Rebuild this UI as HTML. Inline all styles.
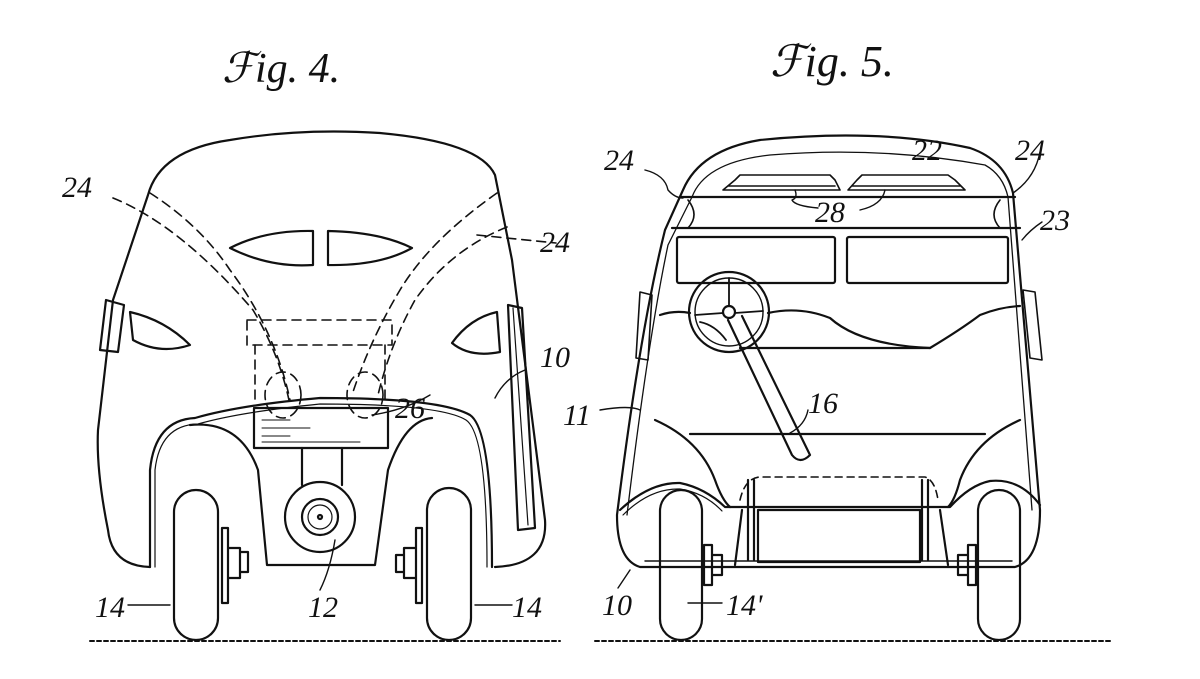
<!DOCTYPE html>
<html><head><meta charset="utf-8"><style>
html,body{margin:0;padding:0;background:#fff;}
svg{display:block}
text{font-family:"Liberation Serif",serif;font-style:italic;fill:#111;}
</style></head><body>
<svg width="1200" height="679" viewBox="0 0 1200 679" xmlns="http://www.w3.org/2000/svg">
<rect width="1200" height="679" fill="#fff"/>
<g fill="none" stroke="#111" stroke-width="2.2" stroke-linecap="round" stroke-linejoin="round">
<!-- FIG 4 -->
<path d="M150,567 Q112,566 108,530 Q96,470 98,430 L113,300 L148,195 Q160,150 230,140 Q300,128 380,133 Q480,142 495,175 L512,260 L545,520 Q548,565 495,567"/>
<path d="M230,248 Q265,230 313,231 L313,265 Q270,268 230,248Z"/>
<path d="M328,231 Q380,232 412,248 Q380,266 328,265Z"/>
<path d="M133,340 L130,312 Q165,320 190,345 Q160,355 133,340Z"/>
<path d="M452,343 Q470,318 497,312 L500,352 Q470,358 452,343Z"/>
<path d="M106,300 L124,305 L118,352 L100,350Z"/>
<path d="M508,305 L522,308 L535,528 L518,530Z"/>
<path d="M513,308 L528,525" stroke-width="1.2"/>
<g stroke-dasharray="9,6" stroke-width="1.6">
<path d="M113,198 Q180,225 253,310 Q280,355 290,405"/>
<path d="M150,193 Q200,225 230,270 Q275,330 290,400"/>
<path d="M497,193 Q430,240 400,290 Q370,340 352,395"/>
<path d="M507,227 Q450,250 415,300 Q390,345 378,395"/>
<path d="M477,235 L556,243"/>
<path d="M247,320 L392,320 L392,345 L247,345Z"/>
<path d="M255,345 L255,400 M385,345 L385,400"/>
<ellipse cx="283" cy="395" rx="18" ry="23"/>
<ellipse cx="365" cy="395" rx="18" ry="23"/>
</g>
<path d="M150,567 L150,470 Q155,420 195,418 Q240,405 320,398 Q440,398 470,415 Q492,430 492,567"/>
<path d="M155,567 L155,470 Q160,425 198,424 Q240,412 320,404 Q440,404 466,420 Q487,434 487,567" stroke-width="1.2"/>
<path d="M190,425 Q240,420 258,470 L267,565 L375,565 L388,470 Q405,420 432,418"/>
<rect x="254" y="408" width="134" height="40"/>
<path d="M262,420 L290,420 M262,428 L310,428 M262,436 L290,436 M262,442 L360,442" stroke-width="1"/>
<path d="M302,448 L302,485 M342,448 L342,485"/>
<circle cx="320" cy="517" r="35"/>
<circle cx="320" cy="517" r="18"/>
<circle cx="320" cy="517" r="12" stroke-width="1.2"/>
<circle cx="320" cy="517" r="2"/>
<rect x="174" y="490" width="44" height="150" rx="22"/>
<rect x="427" y="488" width="44" height="152" rx="22"/>
<path d="M222,528 L228,528 L228,603 L222,603Z M228,548 L240,548 L240,578 L228,578Z M240,552 L248,552 L248,572 L240,572Z"/>
<path d="M422,528 L416,528 L416,603 L422,603Z M416,548 L404,548 L404,578 L416,578Z M404,555 L396,555 L396,572 L404,572Z"/>
<path d="M90,641 L560,641" stroke-width="2" stroke-dasharray="4,3"/>
<path d="M128,605 L170,605 M475,605 L512,605 M335,540 Q330,570 320,590 M525,370 Q505,378 495,398 M430,395 Q405,410 372,415" stroke-width="1.4"/>

<!-- FIG 5 -->
<path d="M640,567 Q617,560 617,515 Q640,330 665,230 L683,190 Q700,150 760,140 Q880,128 970,148 Q1005,160 1013,193 L1040,510 Q1040,560 1015,567 Z"/>
<path d="M627,515 Q648,340 668,245 L692,197 Q705,162 770,155 Q880,146 985,165 Q1003,175 1008,197 L1032,510" stroke-width="1.3"/>
<path d="M680,197 L1015,197"/>
<path d="M672,228 L1020,228"/>
<path d="M688,200 Q700,215 688,228 M1000,200 Q988,215 1000,228" stroke-width="1.6"/>
<path d="M723,190 L735,180 L740,175 L830,175 L835,180 L840,190Z M728,186 L835,186" stroke-width="1.6"/>
<path d="M848,190 L857,180 L862,175 L948,175 L955,180 L965,190Z M852,186 L960,186" stroke-width="1.6"/>
<path d="M795,190 Q798,198 792,200 Q795,206 818,208 M885,190 Q882,205 860,210" stroke-width="1.4"/>
<rect x="677" y="237" width="158" height="46" rx="2"/>
<rect x="847" y="237" width="161" height="46" rx="2"/>
<path d="M640,292 L652,295 L648,360 L636,358Z M1023,290 L1035,292 L1042,360 L1030,358Z" stroke-width="1.6"/>
<path d="M660,315 Q675,310 690,313"/>
<path d="M768,313 Q800,306 830,318 Q860,345 930,348 Q960,330 980,315 Q1000,307 1020,306"/>
<path d="M740,348 L930,348"/>
<circle cx="729" cy="312" r="40"/>
<circle cx="729" cy="312" r="34" stroke-width="1.4"/>
<circle cx="729" cy="312" r="6"/>
<path d="M729,278 L729,306 M695,315 L723,313 M735,313 L763,311 M700,322 Q715,325 726,340" stroke-width="1.8"/>
<path d="M728,320 L792,455 Q800,465 810,455 L742,316"/>
<path d="M690,434 L985,434"/>
<path d="M655,420 Q700,440 715,480 Q722,500 730,507"/>
<path d="M1020,420 Q975,440 960,480 Q955,500 948,507"/>
<path d="M620,510 Q650,482 680,483 Q705,488 725,507 L950,507 Q970,485 990,481 Q1020,478 1040,505"/>
<path d="M623,515 Q650,488 680,489 Q705,493 722,511" stroke-width="1.2"/>
<rect x="758" y="510" width="162" height="52"/>
<path d="M740,500 Q745,478 760,477 L925,477 Q935,480 938,500" stroke-dasharray="7,5" stroke-width="1.6"/>
<path d="M748,480 L748,560 M754,480 L754,560 M922,480 L922,560 M928,480 L928,560"/>
<path d="M742,510 L735,565 M940,510 L948,565"/>
<path d="M640,567 L1015,567 M645,561 L1012,561" stroke-width="1.4"/>
<rect x="660" y="490" width="42" height="150" rx="21"/>
<rect x="978" y="490" width="42" height="150" rx="21"/>
<path d="M704,545 L712,545 L712,585 L704,585Z M712,555 L722,555 L722,575 L712,575Z"/>
<path d="M976,545 L968,545 L968,585 L976,585Z M968,555 L958,555 L958,575 L968,575Z"/>
<path d="M595,641 L1110,641" stroke-width="2" stroke-dasharray="4,3"/>
<path d="M645,170 Q665,175 668,190 Q675,198 683,198 M1040,152 Q1035,178 1013,193 M1042,222 Q1030,230 1022,240 M600,410 Q630,405 640,410 M808,410 Q805,425 790,433 M618,588 L630,570 M688,603 L722,603" stroke-width="1.4"/>
</g>
<text x="222" y="82" font-size="42">ℱig. 4.</text>
<text x="770" y="76" font-size="44">ℱig. 5.</text>
<g font-size="30">
<text x="62" y="197">24</text>
<text x="540" y="252">24</text>
<text x="540" y="367">10</text>
<text x="395" y="418">26</text>
<text x="95" y="617">14</text>
<text x="308" y="617">12</text>
<text x="512" y="617">14</text>
<text x="604" y="170">24</text>
<text x="912" y="160">22</text>
<text x="1015" y="160">24</text>
<text x="1040" y="230">23</text>
<text x="815" y="222">28</text>
<text x="563" y="425">11</text>
<text x="808" y="413">16</text>
<text x="602" y="615">10</text>
<text x="726" y="615">14'</text>
</g>
</svg>
</body></html>
